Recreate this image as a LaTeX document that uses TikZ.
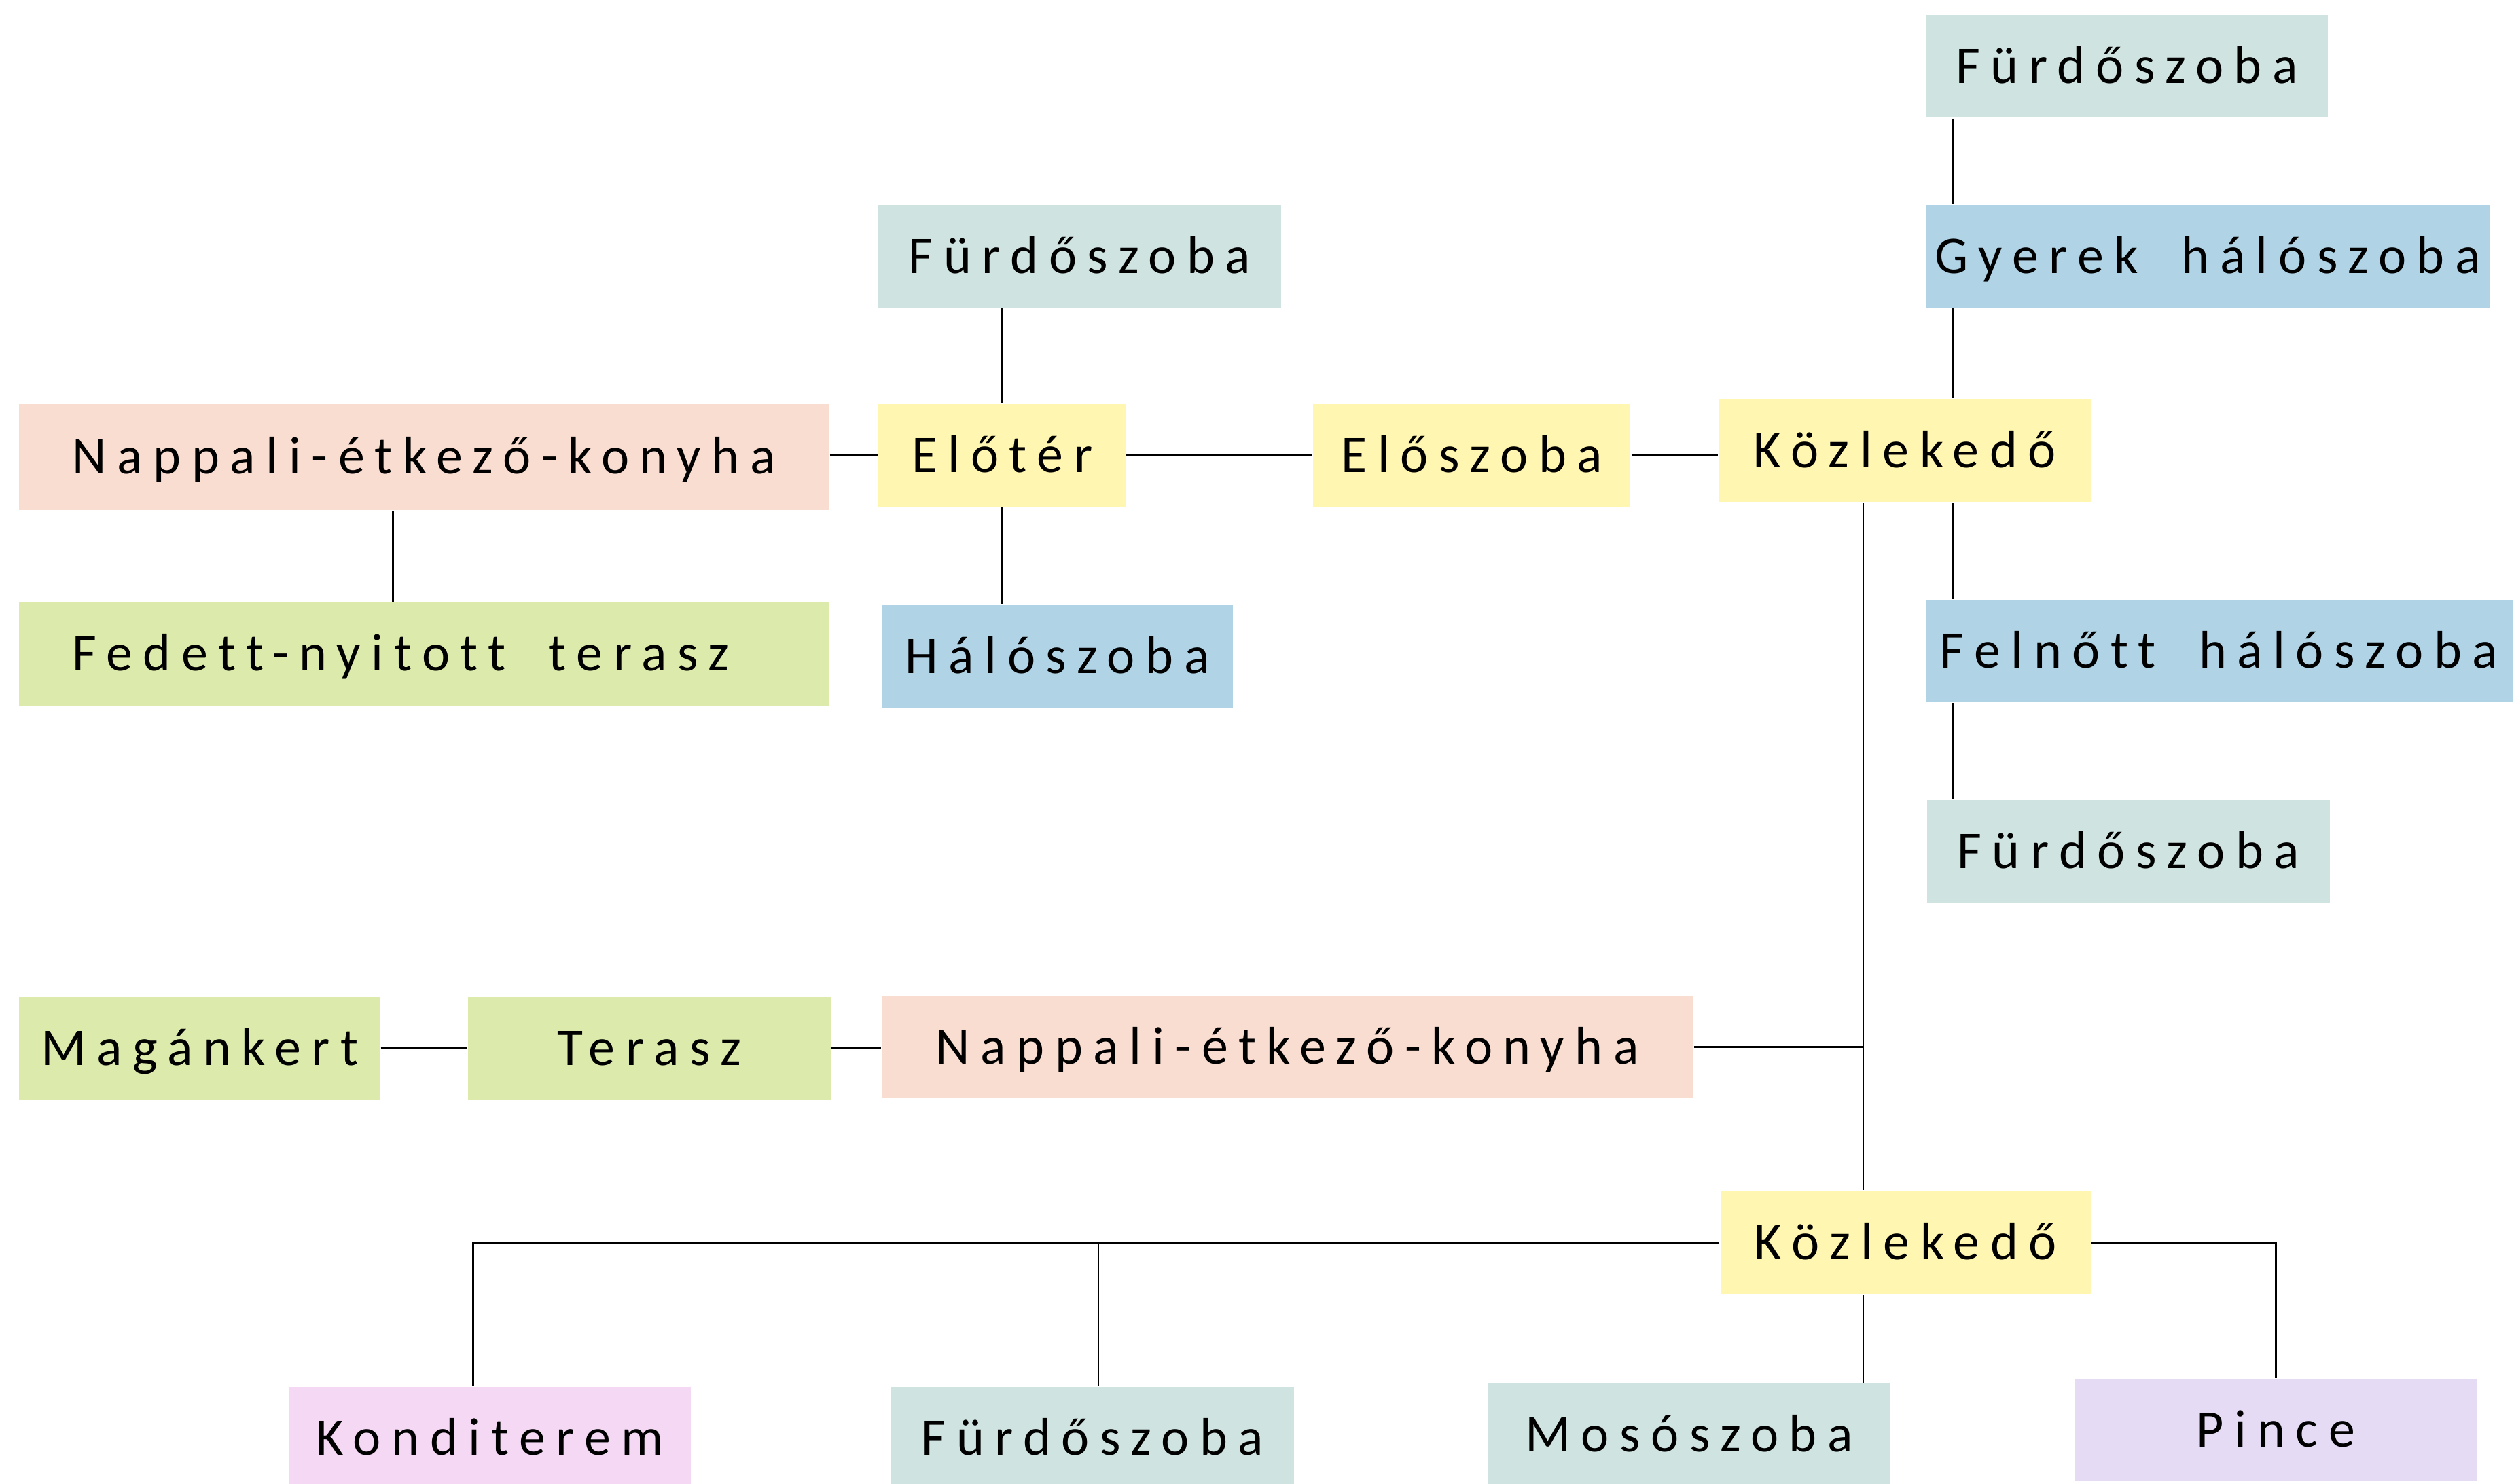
\documentclass[tikz,border=0pt]{standalone}
\usepackage{fontspec}
\setmainfont{Carlito}[LetterSpace=20, Ligatures=NoCommon, WordSpace=1.9]

\definecolor{bathc}{HTML}{CFE3E0}
\definecolor{bedc}{HTML}{B1D3E6}
\definecolor{hallc}{HTML}{FFF6B1}
\definecolor{livingc}{HTML}{FADDD1}
\definecolor{gardenc}{HTML}{DCEBAC}
\definecolor{gymc}{HTML}{F5D9F4}
\definecolor{cellarc}{HTML}{E6DBF5}

\def\pxu{0.02cm}

\tikzset{
  room/.style={minimum height=64*\pxu, inner sep=0pt, text height=12pt, text depth=0pt},
}

\begin{document}
\begin{tikzpicture}[x=\pxu, y=-\pxu, line width=0.6pt, font=\fontsize{18.8}{22}\selectfont]

\useasboundingbox (0,0) rectangle (1568,925.3);
\clip (0,0) rectangle (1568,925.3);

\coordinate (ax) at (1218,0);
\coordinate (bx) at (1162,0);
\coordinate (cx) at (245,0);
\coordinate (kx) at (295,0);
\coordinate (fx) at (685,0);

\begin{scope}[every node/.style={room}]
% upper floor, right wing
\node[fill=bathc, minimum width=251*\pxu] (bathA) at (1326.5,41.5) {Fürdőszoba};
\node[fill=bedc, minimum width=352*\pxu] (kidbed) at (1377,160) {Gyerek hálószoba};
\node[fill=hallc, minimum width=232*\pxu] (hallA) at (1188,281) {Közlekedő};
\node[fill=bedc, minimum width=366*\pxu] (bigbed) at (1384,406) {Felnőtt hálószoba};
\node[fill=bathc, minimum width=251*\pxu] (bathB) at (1327.5,531) {Fürdőszoba};

% upper floor, left wing
\node[fill=bathc, minimum width=251*\pxu] (bathC) at (673.5,160) {Fürdőszoba};
\node[fill=hallc, minimum width=154*\pxu] (lobby) at (625,284) {Előtér};
\node[fill=hallc, minimum width=198*\pxu] (entry) at (918,284) {Előszoba};
\node[fill=bedc, minimum width=219*\pxu] (bed) at (659.5,409.5) {Hálószoba};
\node[fill=livingc, minimum width=505*\pxu, minimum height=66*\pxu] (livingA) at (264.5,285) {Nappali-étkező-konyha};
\node[fill=gardenc, inner xsep=33*\pxu] (porch) at (264.5,408) {\makebox[8.78cm][l]{Fedett-nyitott terasz}};

% lower floor
\node[fill=gardenc, minimum width=225*\pxu] (garden) at (124.5,654) {Magánkert};
\node[fill=gardenc, minimum width=226*\pxu] (terrace) at (405,654) {Terasz};
\node[fill=livingc, minimum width=506*\pxu] (livingB) at (803,653) {Nappali-étkező-konyha};
\node[fill=hallc, minimum width=231*\pxu] (hallB) at (1188.5,775) {Közlekedő};

% basement
\node[fill=gymc, minimum width=251*\pxu] (gym) at (305.5,897) {Konditerem};
\node[fill=bathc, minimum width=251*\pxu] (bathD) at (681.5,897) {Fürdőszoba};
\node[fill=bathc, minimum width=251*\pxu] (laundry) at (1053.5,895) {Mosószoba};
\node[fill=cellarc, minimum width=251*\pxu] (cellar) at (1419.5,892) {Pince};
\end{scope}

\draw (bathA.south -| ax) -- (kidbed.north -| ax);
\draw (kidbed.south -| ax) -- (hallA.north -| ax);
\draw (hallA.south -| ax) -- (bigbed.north -| ax);
\draw (bigbed.south -| ax) -- (bathB.north -| ax);

\draw (bathC.south -| lobby) -- (lobby.north);
\draw (lobby.south) -- (bed.north -| lobby);
\draw (lobby.west -| livingA.east) -- (lobby.west);
\draw (lobby.east) -- (entry.west);
\draw (entry.east) -- (entry.east -| hallA.west);
\draw (livingA.south -| cx) -- (porch.north -| cx);

\draw (hallA.south -| bx) -- (hallB.north -| bx);
\draw (livingB.east) -- (livingB.east -| bx);
\draw (garden.east) -- (terrace.west);
\draw (terrace.east) -- (terrace.east -| livingB.west);

\draw (hallB.west) -- (hallB.west -| kx) -- (gym.north -| kx);
\draw (hallB.west -| fx) -- (bathD.north -| fx);
\draw (hallB.south -| bx) -- (laundry.north -| bx);
\draw (hallB.east) -- (hallB.east -| cellar) -- (cellar.north);

\end{tikzpicture}
\end{document}
